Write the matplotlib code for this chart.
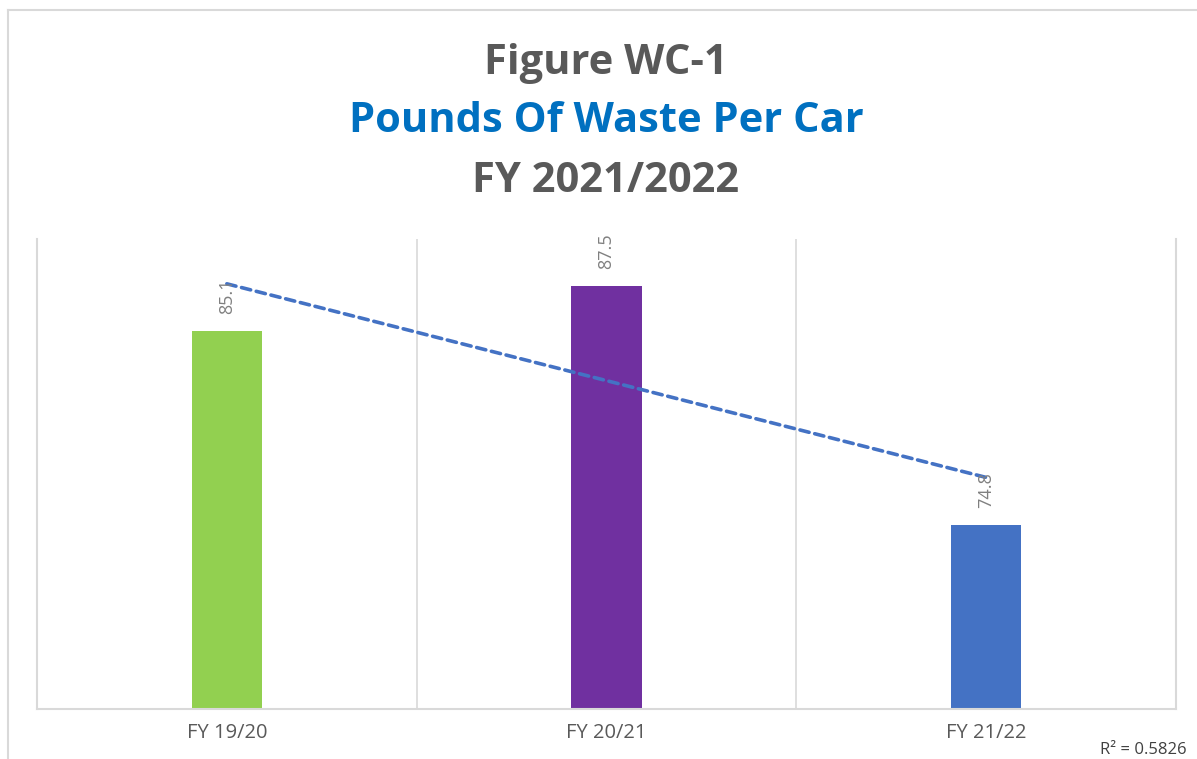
import numpy as np
import matplotlib
matplotlib.use("Agg")
import matplotlib.pyplot as plt

categories = ["FY 19/20", "FY 20/21", "FY 21/22"]
values = [85.1, 87.5, 74.8]
bar_colors = ["#92D050", "#7030A0", "#4472C4"]
title_lines = ["Figure WC-1", "Pounds Of Waste Per Car", "FY 2021/2022"]
r2_label = "R² = 0.5826"

plt.rcParams['font.family'] = ['Open Sans', 'DejaVu Sans']

W, H = 1197, 759
fig = plt.figure(figsize=(W / 100, H / 100), dpi=100)

# outer chart border (left and top visible)
fig.add_artist(plt.Line2D([7.5 / W, 7.5 / W], [0, 1 - 10 / H], transform=fig.transFigure,
                          color="#D9D9D9", lw=1.5))
fig.add_artist(plt.Line2D([7.5 / W, 1], [1 - 10 / H, 1 - 10 / H], transform=fig.transFigure,
                          color="#D9D9D9", lw=1.5))

left, right = 37 / W, 1176 / W
bottom, top = 1 - 709 / H, 1 - 239 / H
ax = fig.add_axes([left, bottom, right - left, top - bottom])

x = np.arange(len(categories))
ax.bar(x, values, width=0.185, color=bar_colors, zorder=2)
ax.set_xlim(-0.5, 2.5)
ax.set_ylim(65, 90)

for xi, v in zip(x, values):
    ax.annotate(f"{v:.1f}", (xi, v), xytext=(0, 12), textcoords="offset points",
                rotation=90, ha="center", va="bottom", fontsize=13, color="#808080", zorder=4)

# linear trendline
coef = np.polyfit(x, values, 1)
xt = np.array([0, 2])
ax.plot(xt, np.polyval(coef, xt), color="#4472C4", lw=2.6, ls=(0, (2.6, 1.6)),
        dash_capstyle="round", zorder=3)

for xv in [0.5, 1.5]:
    ax.axvline(xv, color="#D9D9D9", lw=1.2, zorder=1)

for s in ["left", "right", "bottom"]:
    ax.spines[s].set_color("#D9D9D9")
    ax.spines[s].set_linewidth(1.5)
ax.spines["top"].set_visible(False)
ax.set_yticks([])
ax.set_xticks(x)
ax.set_xticklabels(categories, fontsize=14.5, color="#595959")
ax.tick_params(axis="x", length=0, pad=10)

fig.text(606 / W, 1 - 63 / H, title_lines[0], ha="center", va="center", fontsize=30,
         fontweight="bold", color="#595959")
fig.text(606 / W, 1 - 121 / H, title_lines[1], ha="center", va="center", fontsize=30,
         fontweight="bold", color="#0070C0")
fig.text(606 / W, 1 - 181 / H, title_lines[2], ha="center", va="center", fontsize=30,
         fontweight="bold", color="#595959")

fig.text(1187 / W, 1 - 750 / H, r2_label, ha="right", va="center", fontsize=12, color="#404040")

fig.savefig("out.png", dpi=100)
